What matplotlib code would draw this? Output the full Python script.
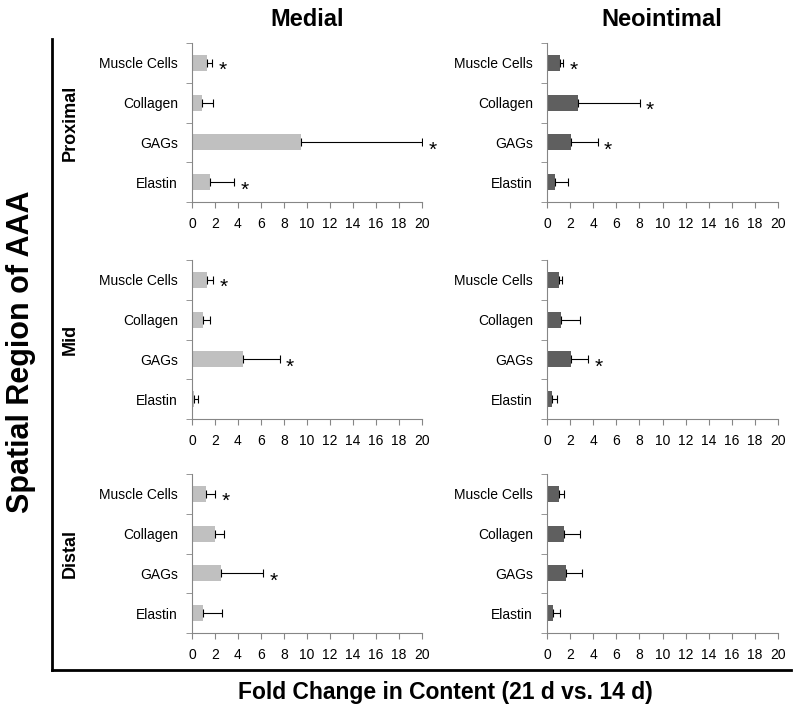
import matplotlib.pyplot as plt
from matplotlib.lines import Line2D

plt.rcParams['font.family'] = ['Liberation Sans', 'DejaVu Sans']

categories = ['Muscle Cells', 'Collagen', 'GAGs', 'Elastin']
regions = ['Proximal', 'Mid', 'Distal']
layers = ['Medial', 'Neointimal']

# mean fold change (rows: Proximal, Mid, Distal)
medial_mean = [[1.33, 0.90, 9.48, 1.60],
               [1.33, 0.96, 4.40, 0.17],
               [1.22, 2.03, 2.55, 0.99]]
medial_err = [[0.44, 0.96, 10.52, 2.08],
              [0.50, 0.58, 3.22, 0.35],
              [0.81, 0.75, 3.62, 1.65]]
medial_sig = [[1, 0, 1, 1],
              [1, 0, 1, 0],
              [1, 0, 1, 0]]

neo_mean = [[1.16, 2.72, 2.05, 0.66],
            [1.04, 1.24, 2.05, 0.40],
            [1.04, 1.50, 1.62, 0.55]]
neo_err = [[0.23, 5.31, 2.34, 1.13],
           [0.23, 1.59, 1.50, 0.44],
           [0.43, 1.33, 1.41, 0.58]]
neo_sig = [[1, 1, 1, 0],
           [0, 0, 1, 0],
           [0, 0, 0, 0]]

xticks = list(range(0, 21, 2))

fig = plt.figure(figsize=(8, 7.17), dpi=100)

col_x = [192 / 800, 547 / 800]
col_w = [230 / 800, 231 / 800]
row_bottom = [1 - 202 / 717, 1 - 419 / 717, 1 - 633 / 717]
row_h = 159 / 717

data = [(medial_mean, medial_err, medial_sig, '#c0c0c0'),
        (neo_mean, neo_err, neo_sig, '#5f5f5f')]

axis_grey = '#868686'
ypos = [3, 2, 1, 0]

for c, (means, errs, sigs, color) in enumerate(data):
    for r in range(3):
        ax = fig.add_axes([col_x[c], row_bottom[r], col_w[c], row_h])
        ax.barh(ypos, means[r], height=0.4, color=color, zorder=2)
        ax.errorbar(means[r], ypos, xerr=[[0] * 4, errs[r]], fmt='none',
                    ecolor='black', elinewidth=0.8, capsize=3, capthick=0.8, zorder=3)
        for i in range(4):
            if sigs[r][i]:
                ax.text(means[r][i] + errs[r][i] + 0.9, ypos[i] - 0.2, '*',
                        ha='center', va='center', fontsize=15, clip_on=False)
        ax.set_xlim(0, 20)
        ax.set_ylim(-0.5, 3.5)
        ax.set_xticks(xticks)
        ax.set_xticklabels([str(t) for t in xticks], fontsize=10)
        ax.set_yticks(ypos)
        ax.set_yticklabels(categories, fontsize=10)
        ax.set_yticks([-0.5, 0.5, 1.5, 2.5, 3.5], minor=True)
        ax.tick_params(axis='y', which='major', length=0, pad=10)
        ax.tick_params(axis='y', which='minor', length=4, color=axis_grey)
        ax.tick_params(axis='x', length=4, color=axis_grey, pad=7)
        for s in ['top', 'right']:
            ax.spines[s].set_visible(False)
        for s in ['left', 'bottom']:
            ax.spines[s].set_color(axis_grey)
            ax.spines[s].set_linewidth(0.8)
        if c == 0:
            fig.text(70 / 800, row_bottom[r] + row_h / 2, regions[r], rotation=90,
                     ha='center', va='center', fontsize=13, fontweight='bold')

fig.text(307 / 800, 1 - 19 / 717, layers[0], ha='center', va='center',
         fontsize=17, fontweight='bold')
fig.text(662 / 800, 1 - 19 / 717, layers[1], ha='center', va='center',
         fontsize=17, fontweight='bold')

fig.text(21 / 800, 1 - 352 / 717, 'Spatial Region of AAA', rotation=90,
         ha='center', va='center', fontsize=22, fontweight='bold')
fig.text(445 / 800, 1 - 693 / 717, 'Fold Change in Content (21 d vs. 14 d)',
         ha='center', va='center', fontsize=16.5, fontweight='bold')

# bracket lines
x0 = 52 / 800
yb = 1 - 670 / 717
fig.add_artist(Line2D([x0, x0], [1 - 39 / 717, yb], color='black', linewidth=2))
fig.add_artist(Line2D([x0, 791 / 800], [yb, yb], color='black', linewidth=2))

fig.savefig('out.png', dpi=100)
